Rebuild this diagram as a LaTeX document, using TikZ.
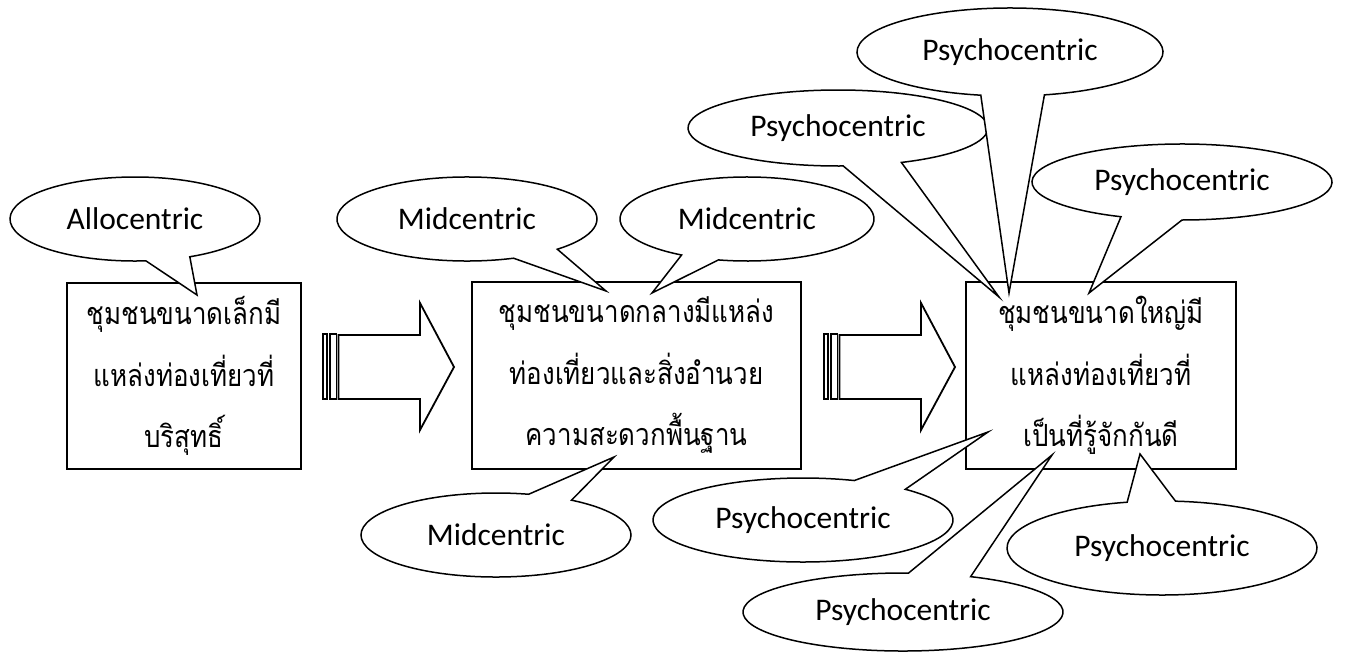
\documentclass[tikz,border=0pt]{standalone}
\usepackage{fontspec}
\setmainfont{Carlito}
\newfontfamily\thaifont[Script=Thai, FakeStretch=0.85]{Loma}
\usetikzlibrary{calc}
\tikzset{
  boxnode/.style={draw, line width=2.2pt, fill=white, inner sep=0pt, align=center,
    font=\thaifont\fontsize{30.5}{61.5}\selectfont},
  bubble/.style={draw, line width=1.5pt, fill=white, line join=miter},
  bubbletext/.style={font=\fontsize{31.5}{36}\selectfont, inner sep=0pt},
  blockarrow/.style={draw, line width=1.8pt, fill=white, line join=miter},
}
% #1 name, #2 cx, #3 cy, #4 rx, #5 ry, #6 low angle, #7 high angle, #8 tip, #9 text
\newcommand\bubble[9]{%
  \draw[bubble] ($(#2,#3)+(#7:#4 and #5)$)
    arc[start angle=#7, end angle={#6+360}, x radius=#4, y radius=#5] -- #8 -- cycle;
  \node[bubbletext] (#1) at (#2,#3) {#9};
}
\begin{document}
\begin{tikzpicture}[x=1pt,y=-1pt]
\useasboundingbox (0,0) rectangle (1348,653);
\fill[white] (0,0) rectangle (1348,653);

% boxes
\node[boxnode, minimum width=234pt, minimum height=186pt] (small) at (184,376)
  {ชุมชนขนาดเล็กมี\\แหล่งท่องเที่ยวที่\\บริสุทธิ์};
\node[boxnode, minimum width=329pt, minimum height=187pt] (medium) at (636.5,375.5)
  {ชุมชนขนาดกลางมีแหล่ง\\ท่องเที่ยวและสิ่งอำนวย\\ความสะดวกพื้นฐาน};
\node[boxnode, minimum width=270pt, minimum height=187pt] (large) at (1101,375.5)
  {ชุมชนขนาดใหญ่มี\\แหล่งท่องเที่ยวที่\\เป็นที่รู้จักกันดี};

% striped block arrows
\foreach \s in {0,501}{
  \draw[blockarrow] (323+\s,334) rectangle (327+\s,399);
  \draw[blockarrow] (330+\s,334) rectangle (336.5+\s,399);
  \draw[blockarrow] (338.5+\s,335) -- (420+\s,335) -- (420+\s,303) -- (454+\s,367)
    -- (420+\s,430) -- (420+\s,399) -- (338.5+\s,399) -- cycle;
}

% callouts
\bubble{allo}{135}{219}{125}{42}{64}{85}{(197,295)}{Allocentric}
\bubble{midA}{467}{219}{130}{42}{46}{69}{(606,291)}{Midcentric}
\bubble{midB}{747}{219}{127}{42}{103}{121}{(652,293)}{Midcentric}
\bubble{psyB}{838}{128}{150}{38}{65}{88}{(999,297)}{Psychocentric}
\bubble{psyA}{1010}{52}{153}{44}{77}{101}{(1009,293)}{Psychocentric}
\bubble{psyC}{1182}{182}{150}{38}{90}{114}{(1089,293)}{Psychocentric}
\bubble{midC}{496}{535}{135}{42}{-76}{-56}{(614,457)}{Midcentric}
\bubble{psyD}{803}{520}{150}{42}{-70}{-47}{(988,432)}{Psychocentric}
\bubble{psyE}{903}{612}{160}{39}{-88}{-65}{(1052,455)}{Psychocentric}
\bubble{psyF}{1162}{548}{155}{47}{-103}{-85}{(1140,454)}{Psychocentric}
\end{tikzpicture}
\end{document}
